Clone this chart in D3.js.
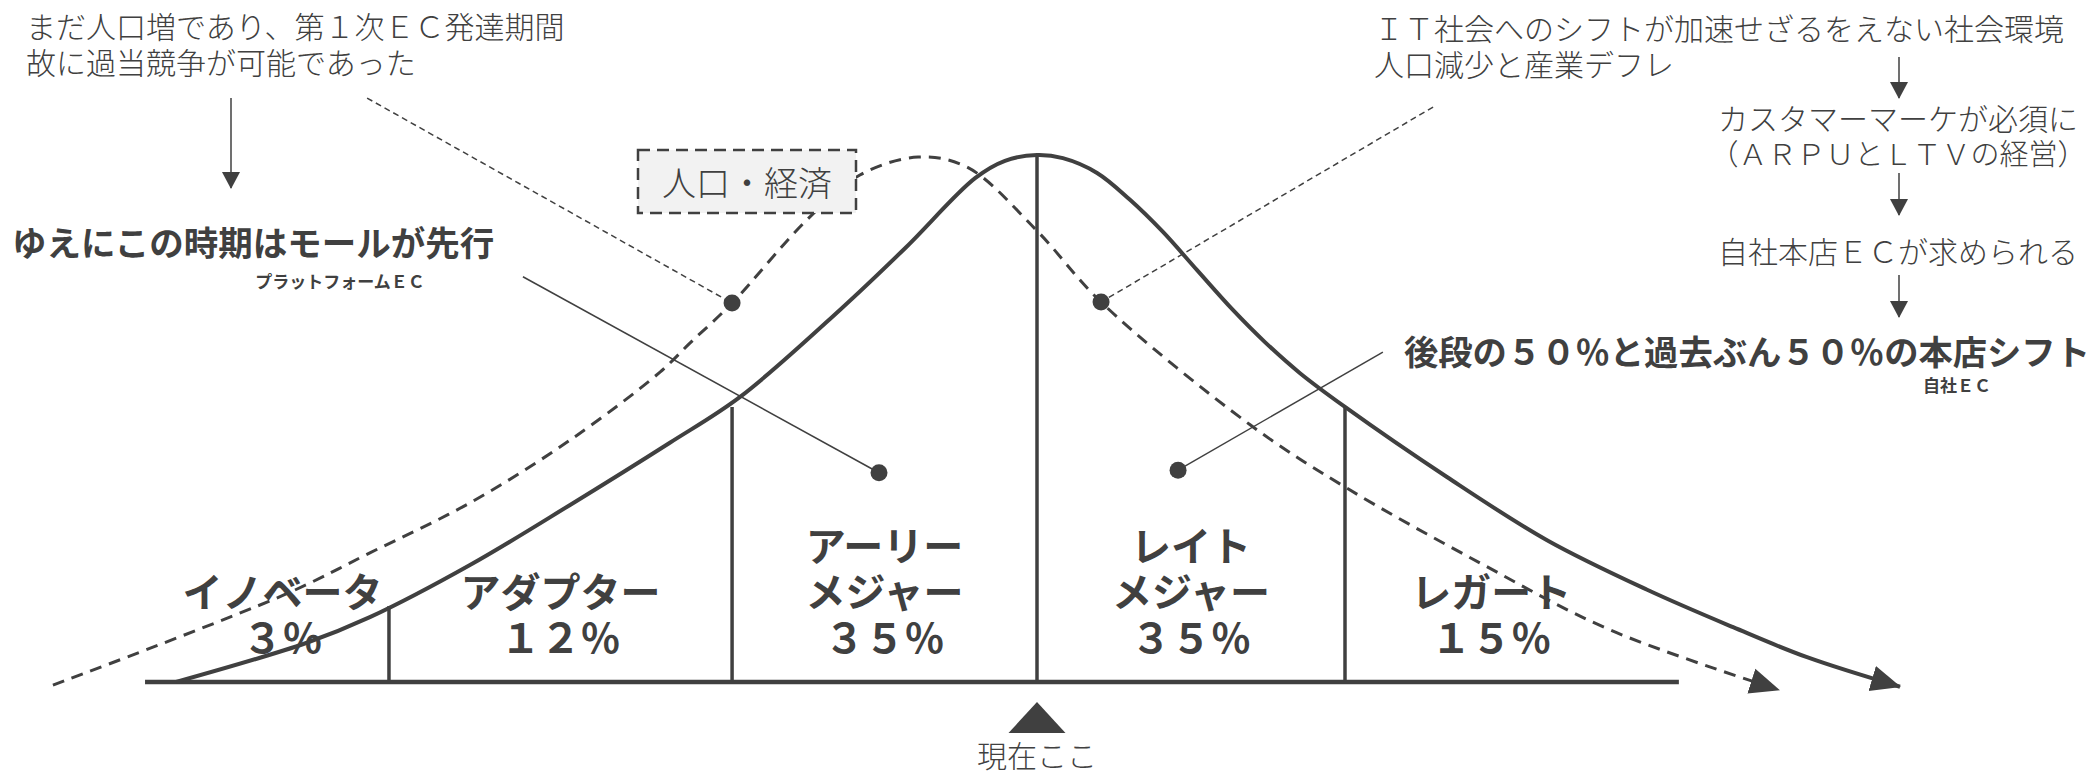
<!DOCTYPE html>
<html>
<head>
<meta charset="utf-8">
<script src="https://cdn.jsdelivr.net/npm/d3@7"></script>
<style>
  body { margin: 0; background: #fff; }
  svg { display: block; font-family: "Noto Sans CJK JP", "Noto Sans", sans-serif; }
</style>
</head>
<body>
<div id="chart"></div>
<script>
// x = distance from the peak in sigma, y = height relative to the peak
var bellCurve = [
  [-2.795, 0], [-2.373, 0.074], [-2.166, 0.123], [-1.841, 0.222], [-1.516, 0.336],
  [-1.192, 0.454], [-0.964, 0.541], [-0.640, 0.706], [-0.425, 0.825], [-0.201, 0.956],
  [-0.104, 0.989], [0, 1], [0.084, 0.994], [0.195, 0.966], [0.302, 0.915],
  [0.409, 0.854], [0.519, 0.782], [0.636, 0.706], [0.740, 0.645], [0.854, 0.586],
  [1.0, 0.522], [1.331, 0.389], [1.656, 0.269], [1.981, 0.175], [2.260, 0.104],
  [2.500, 0.047], [2.802, -0.009]
];

// population / economy curve (dashed)
var economyCurve = [
  [-3.195, -0.006], [-2.438, 0.167], [-2.166, 0.245], [-1.841, 0.340], [-1.516, 0.459],
  [-1.224, 0.588], [-1.127, 0.643], [-0.990, 0.719], [-0.747, 0.877], [-0.575, 0.962],
  [-0.386, 0.996], [-0.227, 0.977], [-0.003, 0.858], [0.208, 0.721], [0.692, 0.488],
  [1.0, 0.370], [1.438, 0.226], [1.860, 0.099], [2.409, -0.015]
];

var segmentNames = [["イノベータ"], ["アダプター"], ["アーリー", "メジャー"], ["レイト", "メジャー"], ["レガート"]];
var segmentShares = ["３％", "１２％", "３５％", "３５％", "１５％"];
var segmentBounds = [-2.795, -2.104, -0.990, 0, 1.0, 1.95];
var dividerTops = [0.144, 0.522, 1.0, 0.522];
var axisExtent = [-2.896, 2.084];

var markerDots = [[-0.990, 0.719], [0.208, 0.721], [-0.513, 0.397], [0.458, 0.402]];
var dashedLeaders = [[[-2.175, 1.108], [-0.990, 0.719]], [[1.286, 1.091], [0.208, 0.721]]];
var solidLeaders = [[[-1.669, 0.769], [-0.513, 0.397]], [[1.123, 0.626], [0.458, 0.402]]];

var notesLeft = ["まだ人口増であり、第１次ＥＣ発達期間", "故に過当競争が可能であった"];
var notesRight = ["ＩＴ社会へのシフトが加速せざるをえない社会環境", "人口減少と産業デフレ"];
var flowSteps = [["カスタマーマーケが必須に", "（ＡＲＰＵとＬＴＶの経営）"], ["自社本店ＥＣが求められる"]];
var headLeft = "ゆえにこの時期はモールが先行", subLeft = "プラットフォームＥＣ";
var headRight = "後段の５０％と過去ぶん５０％の本店シフト", subRight = "自社ＥＣ";
var boxLabel = "人口・経済";
var nowLabel = "現在ここ";

var width = 2095,
    height = 776,
    ink = "#404040";

var svg = d3.select("#chart").append("svg")
    .attr("width", width)
    .attr("height", height);

var x = d3.scaleLinear().domain([0, 1]).range([1037, 1345]);
var y = d3.scaleLinear().domain([0, 1]).range([682, 155]);

var line = d3.line()
    .x(function(d) { return x(d[0]); })
    .y(function(d) { return y(d[1]); })
    .curve(d3.curveCatmullRom.alpha(0.5));

// ARROW HEADS
var defs = svg.append("defs");
defs.append("marker")
    .attr("id", "big")
    .attr("markerUnits", "userSpaceOnUse")
    .attr("viewBox", "0 -14 30 28")
    .attr("refX", 29).attr("refY", 0)
    .attr("markerWidth", 30).attr("markerHeight", 28)
    .attr("orient", "auto")
  .append("path")
    .attr("d", "M0,-13L30,0L0,13Z")
    .attr("fill", ink);
defs.append("marker")
    .attr("id", "small")
    .attr("markerUnits", "userSpaceOnUse")
    .attr("viewBox", "0 -10 17 20")
    .attr("refX", 16).attr("refY", 0)
    .attr("markerWidth", 17).attr("markerHeight", 20)
    .attr("orient", "auto")
  .append("path")
    .attr("d", "M0,-9L17,0L0,9Z")
    .attr("fill", ink);

// baseline
svg.append("line")
    .attr("x1", x(axisExtent[0])).attr("x2", x(axisExtent[1]))
    .attr("y1", y(0)).attr("y2", y(0))
    .attr("stroke", ink).attr("stroke-width", 4.5);

// dividers between the segments
svg.selectAll(".divider")
    .data(dividerTops)
  .enter().append("line")
    .attr("class", "divider")
    .attr("x1", function(d, i) { return x(segmentBounds[i + 1]); })
    .attr("x2", function(d, i) { return x(segmentBounds[i + 1]); })
    .attr("y1", y(0))
    .attr("y2", function(d) { return y(d); })
    .attr("stroke", ink).attr("stroke-width", 3.5);

// curves
svg.append("path")
    .datum(bellCurve)
    .attr("d", line)
    .attr("fill", "none")
    .attr("stroke", ink).attr("stroke-width", 4)
    .attr("marker-end", "url(#big)");

svg.append("path")
    .datum(economyCurve)
    .attr("d", line)
    .attr("fill", "none")
    .attr("stroke", ink).attr("stroke-width", 3)
    .attr("stroke-dasharray", "12,8")
    .attr("marker-end", "url(#big)");

// box on the dashed curve
svg.append("rect")
    .attr("x", 638).attr("y", 150)
    .attr("width", 218).attr("height", 63)
    .attr("fill", "#f2f2f2")
    .attr("stroke", ink).attr("stroke-width", 2.5)
    .attr("stroke-dasharray", "12,7");
svg.append("text")
    .attr("x", 747).attr("y", 181)
    .attr("text-anchor", "middle").attr("dominant-baseline", "central")
    .style("font-size", "34px").style("font-weight", 300)
    .attr("fill", ink)
    .text(boxLabel);

// leader lines
svg.selectAll(".leader-d")
    .data(dashedLeaders)
  .enter().append("line")
    .attr("x1", function(d) { return x(d[0][0]); })
    .attr("y1", function(d) { return y(d[0][1]); })
    .attr("x2", function(d) { return x(d[1][0]); })
    .attr("y2", function(d) { return y(d[1][1]); })
    .attr("stroke", ink).attr("stroke-width", 1.5)
    .attr("stroke-dasharray", "6,4");

svg.selectAll(".leader-s")
    .data(solidLeaders)
  .enter().append("line")
    .attr("x1", function(d) { return x(d[0][0]); })
    .attr("y1", function(d) { return y(d[0][1]); })
    .attr("x2", function(d) { return x(d[1][0]); })
    .attr("y2", function(d) { return y(d[1][1]); })
    .attr("stroke", ink).attr("stroke-width", 1.5);

svg.selectAll(".dot")
    .data(markerDots)
  .enter().append("circle")
    .attr("cx", function(d) { return x(d[0]); })
    .attr("cy", function(d) { return y(d[1]); })
    .attr("r", 8.5)
    .attr("fill", ink);

// SEGMENT LABELS
var seg = svg.selectAll(".seg")
    .data(segmentNames)
  .enter().append("text")
    .attr("class", "seg")
    .attr("text-anchor", "middle")
    .attr("fill", ink)
    .style("font-size", "40px").style("font-weight", 700);

seg.each(function(names, i) {
  var cx = x((segmentBounds[i] + segmentBounds[i + 1]) / 2);
  var rows = names.concat([segmentShares[i]]);
  var t = d3.select(this);
  rows.forEach(function(r, j) {
    t.append("tspan")
      .attr("x", cx)
      .attr("y", 636 - (rows.length - 1 - j) * 46)
      .attr("dominant-baseline", "central")
      .text(r);
  });
});

// now marker
var x0 = x(0);
svg.append("path")
    .attr("d", "M" + (x0 - 28.5) + ",733L" + x0 + ",702L" + (x0 + 28.5) + ",733Z")
    .attr("fill", ink);
svg.append("text")
    .attr("x", x0).attr("y", 754)
    .attr("text-anchor", "middle").attr("dominant-baseline", "central")
    .style("font-size", "30px").style("font-weight", 300)
    .attr("fill", ink)
    .text(nowLabel);

// LEFT NOTES
notesLeft.forEach(function(s, i) {
  svg.append("text")
      .attr("x", 26).attr("y", 25 + i * 36)
      .attr("dominant-baseline", "central")
      .style("font-size", "30px").style("font-weight", 300)
      .attr("fill", ink)
      .text(s);
});
svg.append("line")
    .attr("x1", 231).attr("y1", 98)
    .attr("x2", 231).attr("y2", 188)
    .attr("stroke", ink).attr("stroke-width", 1.5)
    .attr("marker-end", "url(#small)");
svg.append("text")
    .attr("x", 12).attr("y", 241)
    .attr("dominant-baseline", "central")
    .style("font-size", "34.5px").style("font-weight", 700)
    .attr("fill", ink)
    .text(headLeft);
svg.append("text")
    .attr("x", 340).attr("y", 280)
    .attr("text-anchor", "middle").attr("dominant-baseline", "central")
    .style("font-size", "17px").style("font-weight", 700)
    .attr("fill", ink)
    .text(subLeft);

// RIGHT NOTES
notesRight.forEach(function(s, i) {
  svg.append("text")
      .attr("x", 1374).attr("y", 27 + i * 36)
      .attr("dominant-baseline", "central")
      .style("font-size", "30px").style("font-weight", 300)
      .attr("fill", ink)
      .text(s);
});

var flowY = [[117, 152], [250]];
var flowSize = [[30, 29], [30]];
flowSteps.forEach(function(rows, i) {
  rows.forEach(function(s, j) {
    svg.append("text")
        .attr("x", 1898).attr("y", flowY[i][j])
        .attr("text-anchor", "middle").attr("dominant-baseline", "central")
        .style("font-size", flowSize[i][j] + "px").style("font-weight", 300)
        .attr("fill", ink)
        .text(s);
  });
});

[[57, 98], [173, 215], [275, 317]].forEach(function(a) {
  svg.append("line")
      .attr("x1", 1899).attr("y1", a[0])
      .attr("x2", 1899).attr("y2", a[1])
      .attr("stroke", ink).attr("stroke-width", 1.5)
      .attr("marker-end", "url(#small)");
});

svg.append("text")
    .attr("x", 1404).attr("y", 350)
    .attr("dominant-baseline", "central")
    .style("font-size", "34.3px").style("font-weight", 700)
    .attr("fill", ink)
    .text(headRight);
svg.append("text")
    .attr("x", 1957).attr("y", 384)
    .attr("text-anchor", "middle").attr("dominant-baseline", "central")
    .style("font-size", "17px").style("font-weight", 700)
    .attr("fill", ink)
    .text(subRight);
</script>
</body>
</html>
